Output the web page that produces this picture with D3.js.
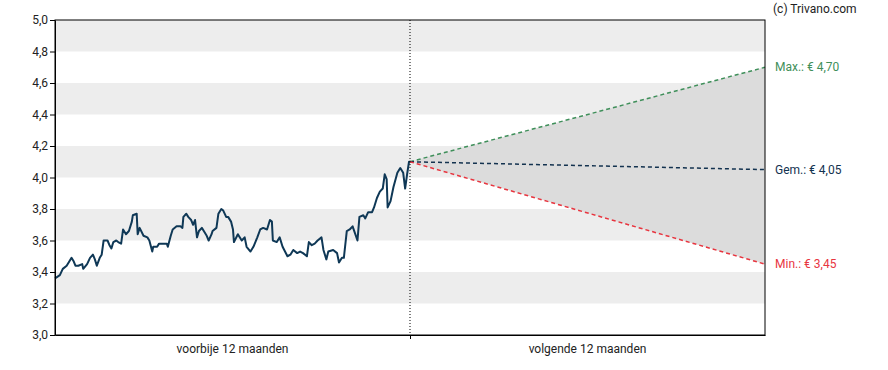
<!DOCTYPE html>
<html>
<head>
<meta charset="utf-8">
<script src="https://cdn.jsdelivr.net/npm/d3@7"></script>
<style>
  body { margin: 0; background: #fff; }
  svg { display: block; font-family: Roboto, "Noto Sans", sans-serif; }
</style>
</head>
<body>
<div id="chart"></div>
<script>
// koers van de voorbije 12 maanden (dag t.o.v. vandaag)
var dagen = [-365, -360, -357, -353, -348, -346, -344, -341, -337, -336, -332, -329, -326, -324, -322,
  -319, -317, -315, -311, -309, -307, -305, -302, -300, -297, -295, -292, -289, -286, -285, -281, -280,
  -278, -274, -270, -268, -265, -264, -260, -258, -254, -250, -249, -246, -244, -240, -236, -234, -233,
  -230, -228, -225, -223, -221, -219, -217, -214, -212, -209, -207, -204, -203, -199, -197, -194, -192,
  -189, -187, -184, -182, -181, -177, -173, -170, -168, -164, -161, -157, -154, -151, -147, -144, -142,
  -141, -137, -134, -131, -126, -123, -120, -116, -113, -110, -106, -104, -101, -98, -95, -91, -89, -86,
  -84, -79, -75, -73, -70, -68, -65, -62, -59, -54, -52, -48, -46, -43, -39, -37, -34, -31, -28, -26,
  -24, -23, -20, -17, -13, -10, -7, -5, -3, -1, 1];
var koers = [3.36, 3.38, 3.42, 3.44, 3.49, 3.47, 3.44, 3.44, 3.45, 3.42, 3.45, 3.49, 3.51, 3.48, 3.44,
  3.49, 3.51, 3.60, 3.60, 3.57, 3.55, 3.59, 3.60, 3.59, 3.58, 3.67, 3.64, 3.66, 3.72, 3.76, 3.77, 3.64,
  3.68, 3.63, 3.62, 3.60, 3.53, 3.56, 3.56, 3.58, 3.58, 3.58, 3.56, 3.63, 3.67, 3.69, 3.69, 3.68, 3.75,
  3.77, 3.75, 3.73, 3.70, 3.73, 3.62, 3.66, 3.68, 3.66, 3.63, 3.60, 3.64, 3.66, 3.68, 3.77, 3.80, 3.79,
  3.75, 3.75, 3.72, 3.67, 3.59, 3.64, 3.60, 3.62, 3.56, 3.53, 3.56, 3.62, 3.67, 3.68, 3.67, 3.73, 3.72,
  3.60, 3.59, 3.62, 3.56, 3.50, 3.51, 3.54, 3.52, 3.53, 3.52, 3.50, 3.59, 3.57, 3.58, 3.60, 3.62, 3.54,
  3.48, 3.53, 3.54, 3.52, 3.46, 3.49, 3.49, 3.66, 3.67, 3.69, 3.60, 3.75, 3.76, 3.74, 3.78, 3.78, 3.81,
  3.87, 3.91, 3.93, 4.02, 3.99, 3.81, 3.85, 3.94, 4.03, 4.06, 4.03, 3.93, 4.02, 4.10, 4.10];

// koersdoelen over 12 maanden
var startKoers = 4.10;
var doelNamen = ["Max.", "Gem.", "Min."];
var doelWaarden = [4.70, 4.05, 3.45];
var doelKleuren = ["#3f8f5a", "#13324f", "#e8353f"];

var yTicks = [3.0, 3.2, 3.4, 3.6, 3.8, 4.0, 4.2, 4.4, 4.6, 4.8, 5.0];
var periodeLabels = ["voorbije 12 maanden", "volgende 12 maanden"];

var margin = { top: 20, right: 123, bottom: 35, left: 55 };
var width = 888 - margin.left - margin.right;
var height = 370 - margin.top - margin.bottom;

var svg = d3.select("#chart").append("svg")
  .attr("width", 888)
  .attr("height", 370);

var g = svg.append("g")
  .attr("transform", "translate(" + margin.left + "," + margin.top + ")");

var x = d3.scaleLinear().domain([-365, 365]).range([0, width]);
var y = d3.scaleLinear().domain([3.0, 5.0]).range([height, 0]);

// grijze banden
var bands = d3.range(0, yTicks.length - 1).filter(function(i) { return i % 2 === 1; });
g.selectAll(".band")
  .data(bands)
  .enter().append("rect")
  .attr("class", "band")
  .attr("x", 0)
  .attr("width", width)
  .attr("y", function(i) { return y(yTicks[i + 1]); })
  .attr("height", function(i) { return y(yTicks[i]) - y(yTicks[i + 1]); })
  .style("fill", "#ededed");

// prognose vlak
var area = [[0, startKoers], [365, doelWaarden[0]], [365, doelWaarden[2]]];
g.append("path")
  .attr("d", d3.line().x(function(d) { return x(d[0]); }).y(function(d) { return y(d[1]); })(area) + "Z")
  .style("fill", "#dcdcdc");

// koerslijn
var line = d3.line()
  .x(function(d, i) { return x(dagen[i]); })
  .y(function(d) { return y(d); });

g.append("path")
  .datum(koers)
  .attr("d", line)
  .style("fill", "none")
  .style("stroke", "#0f3856")
  .style("stroke-width", 2)
  .style("stroke-linejoin", "round");

// prognose lijnen
g.selectAll(".doel")
  .data(doelWaarden)
  .enter().append("line")
  .attr("class", "doel")
  .attr("x1", x(0))
  .attr("y1", y(startKoers))
  .attr("x2", x(365))
  .attr("y2", function(d) { return y(d); })
  .style("stroke", function(d, i) { return doelKleuren[i]; })
  .style("stroke-width", 1.5)
  .style("stroke-dasharray", "4,3");

// vandaag
g.append("line")
  .attr("x1", x(0)).attr("x2", x(0))
  .attr("y1", 0).attr("y2", height)
  .style("stroke", "#000")
  .style("stroke-width", 1)
  .style("stroke-dasharray", "1,2");

// assen
var fmt = function(d) { return d3.format(".1f")(d).replace(".", ","); };
var yAxis = g.append("g")
  .call(d3.axisLeft(y).tickValues(yTicks).tickFormat(fmt).tickSize(5).tickSizeOuter(0).tickPadding(2));
yAxis.selectAll("text").style("font-size", "12px").style("fill", "#222").style("font-family", "Roboto, sans-serif");

var xAxis = g.append("g")
  .attr("transform", "translate(0," + height + ")")
  .call(d3.axisBottom(x).tickValues([0]).tickFormat("").tickSize(4).tickSizeOuter(0));

svg.selectAll(".domain").style("stroke", "#000");

g.append("rect")
  .attr("width", width)
  .attr("height", height)
  .style("fill", "none")
  .style("stroke", "#000")
  .style("stroke-width", 1);

g.selectAll(".periode")
  .data(periodeLabels)
  .enter().append("text")
  .attr("class", "periode")
  .attr("x", function(d, i) { return x(i === 0 ? -182.5 : 182.5); })
  .attr("y", height + 18)
  .attr("text-anchor", "middle")
  .style("font-size", "12px")
  .style("fill", "#222")
  .text(function(d) { return d; });

// labels rechts
g.selectAll(".doelLabel")
  .data(doelWaarden)
  .enter().append("text")
  .attr("class", "doelLabel")
  .attr("x", width + 10)
  .attr("y", function(d) { return y(d); })
  .attr("dy", "0.35em")
  .style("font-size", "12px")
  .style("fill", function(d, i) { return doelKleuren[i]; })
  .text(function(d, i) { return doelNamen[i] + ": € " + fmt2(d); });

function fmt2(v) { return d3.format(".2f")(v).replace(".", ","); }

svg.append("text")
  .attr("x", 773)
  .attr("y", 13)
  .style("font-size", "12px")
  .style("fill", "#222")
  .text("(c) Trivano.com");
</script>
</body>
</html>
